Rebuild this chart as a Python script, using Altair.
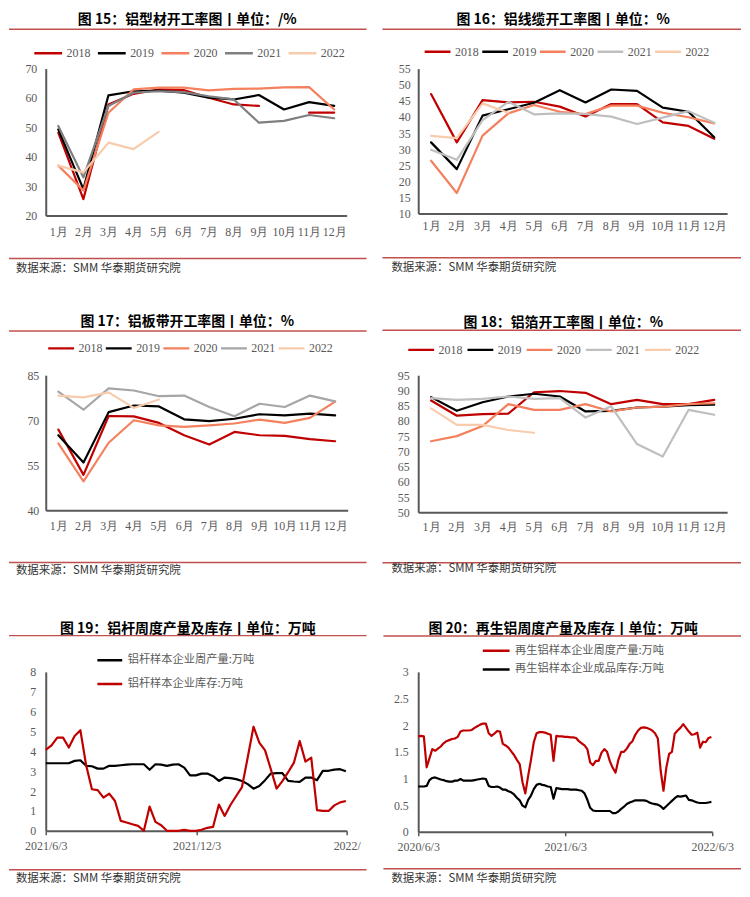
import altair as alt
import pandas as pd

MONTHS = ["1月", "2月", "3月", "4月", "5月", "6月", "7月", "8月", "9月", "10月", "11月", "12月"]
YEARS = ["2018", "2019", "2020", "2021", "2022"]

# 图15 铝型材开工率
P15 = {
    "2018": [48.2, 25.6, 57.8, 61.4, 62.9, 62.7, 60.1, 57.8, 57.3, None, 55.0, 55.0],
    "2019": [49.3, 29.0, 60.9, 62.3, 62.5, 61.8, 60.1, 59.5, 61.0, 56.1, 58.6, 57.3],
    "2020": [37.0, 28.5, 55.0, 62.9, 63.5, 63.5, 62.6, 63.1, 63.2, 63.6, 63.7, 56.1],
    "2021": [50.5, 33.0, 57.3, 61.8, 62.3, 62.0, 60.6, 59.5, 51.6, 52.2, 54.2, 53.1],
    "2022": [37.0, 34.7, 44.8, 42.6, 48.5, None, None, None, None, None, None, None],
}
# 图16 铝线缆开工率
P16 = {
    "2018": [47.1, 32.1, 45.2, 44.5, 44.7, 43.2, 40.1, 44.0, 44.0, 38.3, 37.2, 33.2],
    "2019": [32.1, 23.8, 40.4, 42.4, 44.4, 48.3, 44.5, 48.5, 48.1, 42.9, 41.6, 33.7],
    "2020": [26.4, 16.4, 34.2, 41.1, 43.7, 41.6, 40.9, 43.5, 43.5, 41.3, 39.9, 38.0],
    "2021": [29.8, 26.7, 39.0, 44.7, 40.8, 41.1, 40.9, 40.1, 37.8, 39.8, 41.8, 38.2],
    "2022": [34.1, 33.4, 44.2, 41.3, None, None, None, None, None, None, None, None],
}
# 图17 铝板带开工率
P17 = {
    "2018": [66.9, 51.8, 71.4, 71.3, 69.1, 65.0, 61.9, 66.1, 65.0, 64.8, 63.7, 63.0],
    "2019": [65.0, 55.9, 72.7, 74.9, 74.6, 70.3, 69.7, 70.5, 72.0, 71.6, 72.2, 71.6],
    "2020": [62.3, 49.6, 62.5, 70.0, 68.3, 67.8, 68.3, 68.9, 70.2, 69.1, 70.8, 76.2],
    "2021": [79.5, 73.5, 80.6, 79.9, 78.0, 78.2, 74.4, 71.3, 75.5, 74.4, 78.2, 76.3],
    "2022": [78.2, 77.6, 79.3, 74.1, 76.9, None, None, None, None, None, None, None],
}
# 图18 铝箔开工率
P18 = {
    "2018": [86.7, 81.7, 82.2, 82.4, 89.4, 89.8, 89.2, 85.5, 86.9, 85.5, 85.5, 86.9],
    "2019": [87.8, 83.3, 86.1, 88.0, 88.9, 88.0, 83.1, 83.3, 84.4, 84.7, 85.2, 85.3],
    "2020": [73.3, 75.0, 78.3, 85.5, 83.6, 83.6, 85.5, 83.1, 84.4, 84.7, 85.5, 85.8],
    "2021": [87.5, 86.9, 87.2, 88.0, 87.2, 87.5, 81.1, 84.8, 72.4, 68.3, 83.6, 82.0],
    "2022": [84.1, 78.7, 78.7, 77.0, 76.1, None, None, None, None, None, None, None],
}

# 图19 铝杆周度产量及库存 (weekly from 2021/6/3)
ROD_NAMES = ["铝杆样本企业周产量:万吨", "铝杆样本企业库存:万吨"]
ROD_PROD = [3.40, 3.40, 3.40, 3.40, 3.40, 3.52, 3.55, 3.27, 3.25, 3.13, 3.13, 3.27, 3.27, 3.30,
            3.33, 3.35, 3.35, 3.35, 3.07, 3.35, 3.33, 3.27, 3.33, 3.35, 3.18, 2.79, 2.79, 2.88,
            2.88, 2.75, 2.51, 2.68, 2.65, 2.60, 2.51, 2.35, 2.12, 2.25, 2.55, 2.88, 2.90, 2.90,
            2.51, 2.48, 2.46, 2.68, 2.68, 2.55, 3.02, 3.02, 3.08, 3.10, 3.00]
ROD_INV = [4.07, 4.30, 4.69, 4.69, 4.19, 4.77, 5.06, 3.30, 2.09, 2.05, 1.67, 1.87, 1.50, 0.50,
           0.42, 0.33, 0.25, 0.00, 1.22, 0.45, 0.28, 0.00, 0.00, 0.00, 0.05, 0.00, 0.00, 0.05,
           0.15, 0.20, 1.32, 0.75, 1.30, 1.75, 2.20, 3.70, 5.24, 4.44, 4.05, 3.10, 2.12, 2.50,
           2.95, 3.43, 4.52, 3.48, 3.68, 1.04, 1.00, 1.00, 1.28, 1.43, 1.50]

# 图20 再生铝周度产量及库存 (weekly from 2020/6/3)
SEC_NAMES = ["再生铝样本企业周度产量:万吨", "再生铝样本企业成品库存:万吨"]
SEC_PROD = [1.79, 1.80, 1.79, 1.21, 1.38, 1.55, 1.52, 1.56, 1.60, 1.66, 1.70, 1.72, 1.74, 1.75,
            1.78, 1.88, 1.90, 1.90, 1.90, 1.91, 1.95, 1.98, 2.01, 2.03, 2.03, 1.85, 1.80, 1.84,
            1.89, 1.88, 1.65, 1.62, 1.58, 1.51, 1.44, 1.35, 1.27, 0.93, 0.72, 1.05, 1.35, 1.68,
            1.85, 1.87, 1.87, 1.86, 1.84, 1.82, 1.33, 1.80, 1.79, 1.79, 1.78, 1.78, 1.77, 1.77,
            1.76, 1.70, 1.66, 1.62, 1.55, 1.30, 1.25, 1.33, 1.33, 1.48, 1.55, 1.50, 1.32, 1.20,
            1.11, 1.35, 1.50, 1.50, 1.56, 1.65, 1.70, 1.82, 1.90, 1.95, 1.96, 1.95, 1.93, 1.90,
            1.85, 1.75, 1.15, 0.77, 1.20, 1.46, 1.50, 1.84, 1.90, 1.95, 2.02, 1.95, 1.88, 1.82,
            1.83, 1.86, 1.58, 1.69, 1.68, 1.76, 1.78]
SEC_INV = [0.85, 0.85, 0.85, 0.86, 0.97, 1.01, 1.02, 1.00, 0.98, 0.97, 0.95, 0.94, 0.94, 0.96,
           0.96, 0.99, 0.96, 0.96, 0.96, 0.96, 0.97, 0.98, 0.99, 1.00, 0.99, 0.86, 0.84, 0.84,
           0.85, 0.83, 0.79, 0.79, 0.76, 0.74, 0.70, 0.64, 0.59, 0.49, 0.46, 0.60, 0.68, 0.80,
           0.88, 0.90, 0.88, 0.87, 0.85, 0.84, 0.62, 0.82, 0.81, 0.80, 0.80, 0.80, 0.79, 0.79,
           0.79, 0.78, 0.77, 0.72, 0.60, 0.45, 0.40, 0.39, 0.39, 0.39, 0.39, 0.39, 0.39, 0.35,
           0.35, 0.38, 0.43, 0.47, 0.52, 0.55, 0.57, 0.59, 0.59, 0.59, 0.59, 0.58, 0.55, 0.53,
           0.52, 0.51, 0.48, 0.43, 0.48, 0.53, 0.58, 0.63, 0.67, 0.66, 0.67, 0.68, 0.60, 0.59,
           0.57, 0.55, 0.54, 0.54, 0.54, 0.55, 0.56]

SOURCE = "数据来源：SMM  华泰期货研究院"
TITLES = [
    "图 15：铝型材开工率图丨单位：/%",
    "图 16：铝线缆开工率图丨单位：%",
    "图 17：铝板带开工率图丨单位：%",
    "图 18：铝箔开工率图丨单位：%",
    "图 19：铝杆周度产量及库存丨单位：万吨",
    "图 20：再生铝周度产量及库存丨单位：万吨",
]

RED = "#C00000"
BLACK = "#000000"
ORANGE = "#F4805E"
PEACH = "#F8CBAD"
RULE_RED = "#C0504D"
AXIS_COLOR = "#595959"
LABEL_COLOR = "#595959"
SERIF = "Liberation Serif"
CJK = "Noto Sans CJK SC"


def decorations(title, tx, ty, rx1, rx2, ry_top, ry_bot, sx, sy):
    one = lambda v: pd.DataFrame({"t": [v]})
    # white (invisible) spacer so the title glyphs are not clipped at the top
    spacer = alt.Chart(one("s")).mark_rule(color="#ffffff", strokeWidth=1).encode(
        x=alt.value(tx), x2=alt.value(tx + 1), y=alt.value(ty - 8.5))
    t = alt.Chart(one(title)).mark_text(
        font=CJK, fontSize=14, fontWeight="bold", color="#000000",
        align="center", baseline="middle").encode(
        x=alt.value(tx), y=alt.value(ty), text="t:N")
    r1 = alt.Chart(one("a")).mark_rule(color=RULE_RED, strokeWidth=1.5).encode(
        x=alt.value(rx1), x2=alt.value(rx2), y=alt.value(ry_top))
    r2 = alt.Chart(one("b")).mark_rule(color=RULE_RED, strokeWidth=1.5).encode(
        x=alt.value(rx1), x2=alt.value(rx2), y=alt.value(ry_bot))
    s = alt.Chart(one(SOURCE)).mark_text(
        font=CJK, fontSize=11.5, color="#333333", align="left", baseline="middle").encode(
        x=alt.value(sx), y=alt.value(sy), text="t:N")
    return [spacer, t, r1, r2, s]


def year_panel(data, colors, ydom, yvals, w, h, lx, ly, sym, colpad, xpad, ypad, deco):
    rows = []
    for yr in YEARS:
        for m, v in zip(MONTHS, data[yr]):
            rows.append({"月份": m, "年份": yr, "开工率": v})
    df = pd.DataFrame(rows)
    lines = alt.Chart(df).mark_line(strokeWidth=2.2, strokeJoin="round", strokeCap="round").encode(
        x=alt.X("月份:O", sort=MONTHS, scale=alt.Scale(type="point", padding=0.5),
                axis=alt.Axis(title=None, labelAngle=0, domainColor=AXIS_COLOR, domainWidth=2,
                              ticks=False, tickSize=0, grid=False, labelFont=SERIF,
                              labelFontSize=12, labelColor=LABEL_COLOR, labelPadding=xpad)),
        y=alt.Y("开工率:Q", scale=alt.Scale(domain=ydom, nice=False, zero=False),
                axis=alt.Axis(title=None, values=yvals, domainColor=AXIS_COLOR, domainWidth=2,
                              ticks=False, tickSize=0, grid=False, labelFont=SERIF,
                              labelFontSize=12, labelColor=LABEL_COLOR, labelPadding=ypad)),
        color=alt.Color("年份:N", scale=alt.Scale(domain=YEARS, range=colors),
                        legend=alt.Legend(orient="none", legendX=lx, legendY=ly,
                                          direction="horizontal", title=None,
                                          symbolType="stroke", symbolSize=sym * sym,
                                          symbolStrokeWidth=2.5, labelFont=SERIF,
                                          labelFontSize=12, labelColor=LABEL_COLOR,
                                          labelOffset=3, columnPadding=colpad, padding=0,
                                          clipHeight=14)),
    )
    return alt.layer(lines, *deco).properties(width=w, height=h)


def weekly_panel(start, dates_dom, xvals, names, series, colors, ydom, yvals, yfmt, w, h,
                 lx, ly, sym, rowpad, label_expr, deco):
    n = len(series[0])
    dates = pd.date_range(start=start, periods=n, freq="7D")
    rows = []
    for name, vals in zip(names, series):
        for d, v in zip(dates, vals):
            rows.append({"日期": d, "系列": name, "数值": v})
    df = pd.DataFrame(rows)
    lines = alt.Chart(df).mark_line(strokeWidth=2.2, strokeJoin="round").encode(
        x=alt.X("日期:T", scale=alt.Scale(domain=dates_dom),
                axis=alt.Axis(title=None, values=xvals, format="%Y/%-m/%-d", labelExpr=label_expr,
                              labelAngle=0, domainColor=AXIS_COLOR, domainWidth=2, ticks=True,
                              tickSize=4, tickColor=AXIS_COLOR, tickWidth=1.5, grid=False,
                              labelFont=SERIF, labelFontSize=12, labelColor=LABEL_COLOR,
                              labelPadding=5.5, labelFlush=False, labelOverlap=False,
                              labelBound=False)),
        y=alt.Y("数值:Q", scale=alt.Scale(domain=ydom, nice=False, zero=False),
                axis=alt.Axis(title=None, values=yvals, format=yfmt, domainColor=AXIS_COLOR,
                              domainWidth=2, ticks=False, tickSize=0, grid=False, labelFont=SERIF,
                              labelFontSize=12, labelColor=LABEL_COLOR, labelPadding=10)),
        color=alt.Color("系列:N", scale=alt.Scale(domain=names, range=colors),
                        legend=alt.Legend(orient="none", legendX=lx, legendY=ly,
                                          direction="vertical", title=None,
                                          symbolType="stroke", symbolSize=sym * sym,
                                          symbolStrokeWidth=2.5, labelFont=CJK,
                                          labelFontSize=11.3, labelColor=LABEL_COLOR,
                                          labelOffset=4, rowPadding=rowpad, padding=0,
                                          clipHeight=14, labelLimit=300)),
    )
    return alt.layer(lines, *deco).properties(width=w, height=h)


p15 = year_panel(P15, [RED, BLACK, ORANGE, "#7F7F7F", PEACH], [20, 70], [20, 30, 40, 50, 60, 70],
                 303, 148, -13, -22.5, 28, 6, 11, 9,
                 decorations(TITLES[0], 142.5, -48.8, -37, 323, -39.5, 191.2, -30, 201.5))
p16 = year_panel(P16, [RED, BLACK, ORANGE, "#BFBFBF", PEACH], [10, 55],
                 [10, 15, 20, 25, 30, 35, 40, 45, 50, 55],
                 311, 146, 5, -24, 26, 2, 7, 8,
                 decorations(TITLES[1], 146, -48.8, -36, 325, -39.5, 190.5, -27, 201.2))
p17 = year_panel(P17, [RED, BLACK, ORANGE, "#A6A6A6", PEACH], [40, 85], [40, 55, 70, 85],
                 304, 136, 1, -34, 26, 2, 10.5, 7,
                 decorations(TITLES[2], 142.5, -53.8, -37, 323, -44.5, 188.5, -30, 197.2))
p18 = year_panel(P18, [RED, BLACK, ORANGE, "#BFBFBF", PEACH], [50, 95],
                 [50, 55, 60, 65, 70, 75, 80, 85, 90, 95],
                 311, 138, -11.5, -32.5, 26, 3.6, 9, 9,
                 decorations(TITLES[3], 146, -52.8, -36, 325, -45.2, 188.8, -27, 195.5))

NBSP4 = "\u00a0\u00a0\u00a0\u00a0"
d = lambda y, m, dd: alt.DateTime(year=y, month=m, date=dd)
p19 = weekly_panel("2021-06-03", [d(2021, 6, 3), d(2022, 6, 3)],
                   [d(2021, 6, 3), d(2021, 12, 3), d(2022, 6, 3)],
                   ROD_NAMES, [ROD_PROD, ROD_INV], [BLACK, RED], [0, 8],
                   [0, 1, 2, 3, 4, 5, 6, 7, 8], "~g", 303, 160, 50.5, -18.8, 25, 10,
                   "datum.label == '2022/6/3' ? '2022/" + NBSP4 + "' : datum.label",
                   decorations(TITLES[4], 143, -43.5, -37, 323, -36.5, 199.2, -30, 208.2))
p20 = weekly_panel("2020-06-03", [d(2020, 6, 3), d(2022, 6, 3)],
                   [d(2020, 6, 3), d(2021, 6, 3), d(2022, 6, 3)],
                   SEC_NAMES, [SEC_PROD, SEC_INV], [RED, BLACK], [0, 3],
                   [0, 0.5, 1, 1.5, 2, 2.5, 3], "~g", 296, 161, 63.5, -28.2, 27, 4.7,
                   "datum.label",
                   decorations(TITLES[5], 146, -43.5, -35, 325, -36.2, 198.2, -27, 208.2))

chart = alt.concat(
    p15, p16, p17, p18, p19, p20,
    columns=2,
    spacing={"row": 160.7, "column": 71},
    bounds="flush",
    align="each",
    padding=0,
).resolve_scale(color="independent", x="independent", y="independent").resolve_legend(
    color="independent"
).configure_view(stroke=None)

chart.save("out.html", embed_options={"renderer": "svg", "actions": False})
